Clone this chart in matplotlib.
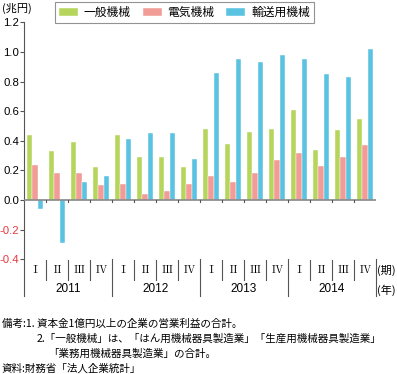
import numpy as np
import matplotlib.pyplot as plt
from matplotlib.lines import Line2D

plt.rcParams['font.family'] = ['Liberation Sans', 'Noto Sans CJK JP', 'DejaVu Sans']
plt.rcParams['axes.unicode_minus'] = False

SERIES = ["一般機械", "電気機械", "輸送用機械"]
COLORS = ["#b5d55c", "#f29c98", "#5bc3e2"]

YEARS = ["2011", "2012", "2013", "2014"]
QUARTERS = ["Ⅰ", "Ⅱ", "Ⅲ", "Ⅳ"]

general = [0.44, 0.33, 0.39, 0.22, 0.44, 0.29, 0.29, 0.22,
           0.48, 0.38, 0.46, 0.48, 0.61, 0.34, 0.47, 0.55]
electric = [0.24, 0.18, 0.18, 0.10, 0.11, 0.04, 0.06, 0.11,
            0.16, 0.12, 0.18, 0.27, 0.32, 0.23, 0.29, 0.37]
transport = [-0.06, -0.29, 0.12, 0.16, 0.41, 0.45, 0.45, 0.28,
             0.86, 0.95, 0.93, 0.98, 0.95, 0.85, 0.83, 1.02]

W, H = 397, 374
fig = plt.figure(figsize=(W / 100, H / 100), dpi=100)
# axes: x 24..376 px, y(1.2)=22.3 px, y(-0.4)=259.3 px
ax = fig.add_axes([24 / W, 1 - 259.3 / H, 352 / W, 237 / H])

x = np.arange(len(general))
bw = 0.23
for i, (vals, c, lab) in enumerate(zip([general, electric, transport], COLORS, SERIES)):
    ax.bar(x + (i - 1) * bw, vals, width=bw, color=c, edgecolor="#ffffff",
           linewidth=0.3, label=lab, zorder=2)

yt = np.arange(-0.4, 1.21, 0.2)
ax.set_xlim(-0.5, len(general) - 0.5)
ax.set_ylim(-0.4, 1.2)
ax.set_yticks(yt)
ax.set_yticklabels([f"{v:.1f}".replace("-0.0", "0.0") for v in yt], fontsize=8.2)
for t, v in zip(ax.get_yticklabels(), yt):
    if v < -0.01:
        t.set_color("#e8383d")
ax.tick_params(axis="y", length=3, width=0.8, color="#555555", pad=0.5)
ax.set_xticks([])
for s in ["top", "right", "bottom"]:
    ax.spines[s].set_visible(False)
ax.spines["left"].set_color("#555555")
ax.spines["left"].set_linewidth(0.8)

# zero line with small ticks at group boundaries
ax.axhline(0, color="#888888", lw=1.2, zorder=3)
for b in np.arange(0.5, len(general) - 0.5, 1):
    ax.plot([b, b], [0, -0.012], color="#555555", lw=0.8, zorder=3,
            clip_on=False)

# category table below the axes
def fx(px):
    return px / W

def fy(py):
    return 1 - py / H

x0, gw = 24, 22
fig.add_artist(Line2D([fx(x0), fx(x0)], [fy(259), fy(296)], color="#555555", lw=0.8))
for k in range(1, 17):
    xp = x0 + k * gw
    if k % 4 == 0:
        fig.add_artist(Line2D([fx(xp), fx(xp)], [fy(259), fy(296)], color="#555555", lw=0.8))
    else:
        fig.add_artist(Line2D([fx(xp), fx(xp)], [fy(260), fy(280)], color="#555555", lw=0.8))
for k in range(16):
    fig.text(fx(x0 + gw * k + gw / 2), fy(270), QUARTERS[k % 4], ha="center",
             va="center", fontsize=8, family=["Noto Serif CJK JP", "Noto Sans CJK JP"])
for j, yr in enumerate(YEARS):
    fig.text(fx(x0 + 88 * j + 44), fy(289), yr, ha="center", va="center", fontsize=8.5)
fig.text(fx(386), fy(270), "(期)", ha="center", va="center", fontsize=8,
         family=["Noto Sans CJK JP"])
fig.text(fx(386), fy(290), "(年)", ha="center", va="center", fontsize=8,
         family=["Noto Sans CJK JP"])

fig.text(fx(2), fy(8), "(兆円)", ha="left", va="center", fontsize=8,
         family=["Noto Sans CJK JP"])

leg = ax.legend(loc="upper left", bbox_to_anchor=(fx(55), fy(2)),
                bbox_transform=fig.transFigure, ncol=3, fontsize=8.5,
                frameon=True, fancybox=False, edgecolor="#777777",
                handlelength=1.6, handleheight=0.6, handletextpad=0.5,
                columnspacing=1.0, borderpad=0.35, borderaxespad=0)
leg.get_frame().set_linewidth(0.8)
for t in leg.get_texts():
    t.set_family(["Noto Sans CJK JP"])

NOTES = [
    (2, 324, "備考:1. 資本金1億円以上の企業の営業利益の合計。"),
    (37, 339, "2.「一般機械」は、「はん用機械器具製造業」「生産用機械器具製造業」"),
    (48, 354, "「業務用機械器具製造業」の合計。"),
    (2, 369, "資料:財務省「法人企業統計」"),
]
for xp, yp, s in NOTES:
    fig.text(fx(xp), fy(yp), s, ha="left", va="center", fontsize=7.6,
             family=["Noto Sans CJK JP", "DejaVu Sans"])

fig.savefig("out.png", dpi=100)
